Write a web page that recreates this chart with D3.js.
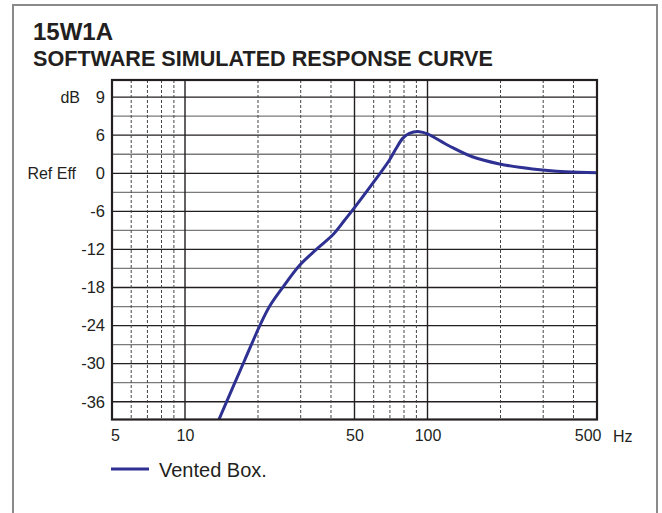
<!DOCTYPE html>
<html>
<head>
<meta charset="utf-8">
<script src="https://cdn.jsdelivr.net/npm/d3@7/dist/d3.min.js"></script>
<style>
  html, body { margin: 0; padding: 0; background: #fff; }
  svg { display: block; font-family: Arial, "Liberation Sans", Helvetica, sans-serif; }
</style>
</head>
<body>
<svg id="chart" width="662" height="513"></svg>
<script>
// ---- data ----
const titleText = "15W1A";
const subtitleText = "SOFTWARE SIMULATED RESPONSE CURVE";
const seriesName = "Vented Box.";
const freqHz = [13.8, 17.6, 20.3, 22.3, 25.4, 29.7, 34.8, 40.7, 45.5, 50, 61, 69.7, 74.2, 79, 84.2, 92.6, 100, 123, 153, 198, 271, 372, 500];
const responseDb = [-38.8, -29.5, -24.1, -21.0, -17.9, -14.5, -12.0, -9.7, -7.4, -5.4, -1.0, 2.1, 3.9, 5.5, 6.3, 6.56, 6.2, 4.3, 2.6, 1.47, 0.68, 0.25, 0.1];
const xTickValues = [5, 10, 50, 100, 500];
const xTickLabels = ["5", "10", "50", "100", "500"];
const xMajorGrid = [10, 50, 100];
const xMinorGrid = [6, 7, 8, 9, 20, 30, 40, 60, 70, 80, 90, 200, 300, 400];
const yTickValues = [12, 6, 0, -6, -12, -18, -24, -30, -36];
const yTickLabels = ["9", "6", "0", "-6", "-12", "-18", "-24", "-30", "-36"];
const yMinorGrid = [9, 3, -3, -9, -15, -21, -27, -33];
const xDomain = [5, 500];
const yDomain = [-38.8, 14.7];

// ---- layout ----
const svg = d3.select("#chart");
const plot = { left: 112, right: 597, top: 80, bottom: 419.5 };
const x = d3.scaleLog().domain(xDomain).range([plot.left, plot.right]);
const y = d3.scaleLinear().domain(yDomain).range([plot.bottom, plot.top]);

// outer frame
svg.append("rect").attr("x", 13).attr("y", 5).attr("width", 644).attr("height", 530)
  .attr("fill", "none").attr("stroke", "#8a8a8a").attr("stroke-width", 2);

// titles
svg.append("text").attr("x", 33).attr("y", 40).attr("font-size", 24).attr("font-weight", "bold")
  .attr("fill", "#231f20").text(titleText);
svg.append("text").attr("x", 33).attr("y", 66).attr("font-size", 21.6).attr("font-weight", "bold")
  .attr("fill", "#231f20").text(subtitleText);

const g = svg.append("g");

// horizontal minor grid
g.selectAll("line.hmin").data(yMinorGrid).enter().append("line")
  .attr("x1", plot.left).attr("x2", plot.right)
  .attr("y1", d => y(d)).attr("y2", d => y(d))
  .attr("stroke", "#7a7a7a").attr("stroke-width", 1.3);
// horizontal major grid
g.selectAll("line.hmaj").data(yTickValues).enter().append("line")
  .attr("x1", plot.left).attr("x2", plot.right)
  .attr("y1", d => y(d)).attr("y2", d => y(d))
  .attr("stroke", "#231f20").attr("stroke-width", 1.3);
// vertical minor (dashed)
g.selectAll("line.vmin").data(xMinorGrid).enter().append("line")
  .attr("x1", d => x(d)).attr("x2", d => x(d))
  .attr("y1", plot.top).attr("y2", plot.bottom)
  .attr("stroke", "#444").attr("stroke-width", 1).attr("stroke-dasharray", "3,2");
// vertical major
g.selectAll("line.vmaj").data(xMajorGrid).enter().append("line")
  .attr("x1", d => x(d)).attr("x2", d => x(d))
  .attr("y1", plot.top).attr("y2", plot.bottom)
  .attr("stroke", "#231f20").attr("stroke-width", 1.4);

// clip
svg.append("defs").append("clipPath").attr("id", "clip").append("rect")
  .attr("x", plot.left).attr("y", plot.top)
  .attr("width", plot.right - plot.left).attr("height", plot.bottom - plot.top);

// curve
const pts = freqHz.map((f, i) => [f, responseDb[i]]);
const line = d3.line().x(d => x(d[0])).y(d => y(d[1])).curve(d3.curveCatmullRom.alpha(0.5));
svg.append("path").datum(pts).attr("d", line).attr("clip-path", "url(#clip)")
  .attr("fill", "none").attr("stroke", "#2e3192").attr("stroke-width", 3)
  .attr("stroke-linejoin", "round").attr("stroke-linecap", "round");

// border
svg.append("rect").attr("x", plot.left).attr("y", plot.top)
  .attr("width", plot.right - plot.left).attr("height", plot.bottom - plot.top)
  .attr("fill", "none").attr("stroke", "#231f20").attr("stroke-width", 2.2);

// y axis labels
const yAxis = d3.axisLeft(y).tickValues(yTickValues)
  .tickFormat((d, i) => yTickLabels[i]).tickSize(0).tickPadding(7);
const ya = svg.append("g").attr("transform", `translate(${plot.left},0)`).call(yAxis);
ya.select(".domain").remove();
ya.selectAll("text").attr("font-size", 16.5).attr("fill", "#231f20")
  .attr("font-family", "Arial, 'Liberation Sans', sans-serif");

svg.append("text").attr("x", 80).attr("y", y(12)).attr("dy", "0.35em").attr("text-anchor", "end")
  .attr("font-size", 16).attr("fill", "#231f20").text("dB");
svg.append("text").attr("x", 76).attr("y", y(0)).attr("dy", "0.35em").attr("text-anchor", "end")
  .attr("font-size", 16).attr("fill", "#231f20").text("Ref Eff");

// x axis labels
const xAxis = d3.axisBottom(x).tickValues(xTickValues)
  .tickFormat((d, i) => xTickLabels[i]).tickSize(0).tickPadding(10);
const xa = svg.append("g").attr("transform", `translate(0,${plot.bottom})`).call(xAxis);
xa.select(".domain").remove();
xa.selectAll("text").attr("font-size", 16).attr("fill", "#231f20")
  .attr("font-family", "Arial, 'Liberation Sans', sans-serif");
xa.selectAll(".tick").filter(d => d === 500).select("text").attr("text-anchor", "end").attr("dx", 4);
xa.selectAll(".tick").filter(d => d === 5).select("text").attr("dx", 3);

svg.append("text").attr("x", 613).attr("y", 442).attr("font-size", 16).attr("fill", "#231f20").text("Hz");

// legend
svg.append("line").attr("x1", 111).attr("x2", 149).attr("y1", 469).attr("y2", 469)
  .attr("stroke", "#2e3192").attr("stroke-width", 3);
svg.append("text").attr("x", 159).attr("y", 476.5).attr("font-size", 20).attr("fill", "#231f20").text(seriesName);
</script>
</body>
</html>
